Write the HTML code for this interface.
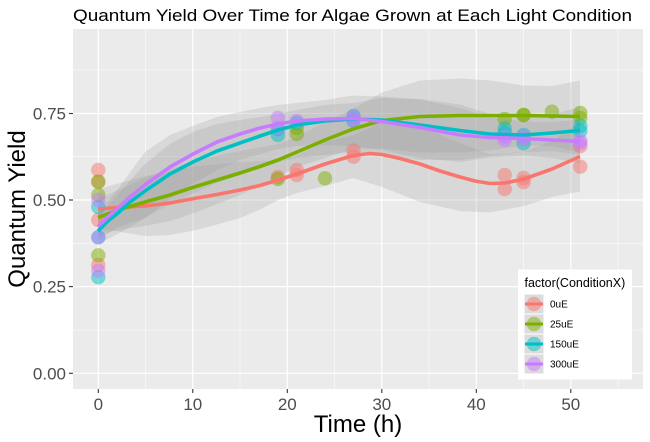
<!DOCTYPE html>
<html>
<head>
<meta charset="utf-8">
<style>
  html, body { margin: 0; padding: 0; background: #ffffff; }
  svg { display: block; }
  text { font-family: "Liberation Sans", Arial, sans-serif; }
</style>
</head>
<body>
<svg width="650" height="442" viewBox="0 0 650 442" xmlns="http://www.w3.org/2000/svg">
  <rect x="0" y="0" width="650" height="442" fill="#ffffff"/>

  <!-- Title -->
  <text x="73" y="21" font-size="16.5" fill="#000" textLength="559" lengthAdjust="spacingAndGlyphs">Quantum Yield Over Time for Algae Grown at Each Light Condition</text>

  <!-- Panel -->
  <rect x="73" y="29" width="570" height="360" fill="#EBEBEB"/>

  <!-- minor grid -->
  <g stroke="#ffffff" stroke-width="0.6" opacity="0.9">
    <line x1="73" x2="643" y1="70" y2="70"/>
    <line x1="73" x2="643" y1="156.6" y2="156.6"/>
    <line x1="73" x2="643" y1="243.3" y2="243.3"/>
    <line x1="73" x2="643" y1="330" y2="330"/>
    <line x1="145.5" x2="145.5" y1="29" y2="389"/>
    <line x1="240" x2="240" y1="29" y2="389"/>
    <line x1="334.5" x2="334.5" y1="29" y2="389"/>
    <line x1="429" x2="429" y1="29" y2="389"/>
    <line x1="523.5" x2="523.5" y1="29" y2="389"/>
    <line x1="618" x2="618" y1="29" y2="389"/>
  </g>
  <!-- major grid -->
  <g stroke="#ffffff" stroke-width="1.2">
    <line x1="73" x2="643" y1="113.5" y2="113.5"/>
    <line x1="73" x2="643" y1="200" y2="200"/>
    <line x1="73" x2="643" y1="286.6" y2="286.6"/>
    <line x1="73" x2="643" y1="373.3" y2="373.3"/>
    <line x1="98.3" x2="98.3" y1="29" y2="389"/>
    <line x1="192.8" x2="192.8" y1="29" y2="389"/>
    <line x1="287.3" x2="287.3" y1="29" y2="389"/>
    <line x1="381.8" x2="381.8" y1="29" y2="389"/>
    <line x1="476.3" x2="476.3" y1="29" y2="389"/>
    <line x1="570.8" x2="570.8" y1="29" y2="389"/>
  </g>

  <!-- Ribbons -->
  <g fill="#999999" fill-opacity="0.24" stroke="none">
    <!-- red -->
    <polygon points="98,189 118,183.5 145,176 170,171 194,166.5 217,164.5 240,162 260,161.5 278,160 297,155 325,142 353,135.5 382,122.5 420,126 460,143 490,154.5 524,152 552,141 580,121.5 580,191.5 552,197 524,206 490,212.5 460,211 420,202 382,187 353,178 325,186 297,193 278,200 260,209.5 240,218 217,224.5 194,230.5 170,235 145,236 118,231.5 98,229"/>
    <!-- green -->
    <polygon points="98,199.5 118,190 145,178 170,169 194,161 217,156 240,151 260,147.5 278,144 297,137 325,122 353,109 382,92.5 420,80.5 460,78.5 490,80.5 524,85.5 552,86 580,80.5 580,152.5 552,146 524,145.5 490,150.5 460,152.5 420,152.5 382,148.5 353,149 325,158 297,167 278,176 260,185.5 240,195 217,204 194,213 170,221 145,226 118,230 98,235.5"/>
    <!-- cyan -->
    <polygon points="98,218 118,194 145,164 170,144 194,131.5 217,124 240,120 260,117 278,114 297,110 325,105 353,103 382,98 420,99 460,104.5 490,114 524,118 552,115 580,106.5 580,154.5 552,151 524,152 490,156 460,160 420,160 382,155 353,152 325,155 297,158 278,162 260,168 240,175 217,183 194,193 170,204 145,218 118,234 98,244"/>
    <!-- purple -->
    <polygon points="98,213.5 118,189 145,152 170,135 194,125.5 217,117 240,112 260,108 278,105 297,103 325,100 353,95.5 382,96.5 420,99.5 460,108 490,117.5 524,121.5 552,122 580,119.5 580,163.5 552,158 524,155.5 490,157.5 460,162 420,158 382,150 353,146 325,145 297,146 278,149 260,154 240,160 217,170 194,183 170,199 145,218 118,227 98,239.5"/>
  </g>

  <!-- Points -->
  <g fill-opacity="0.5" stroke="none">
    <!-- red -->
    <g fill="#F8766D">
      <circle cx="98.3" cy="170" r="7.2"/>
      <circle cx="98.3" cy="181.7" r="7.2"/>
      <circle cx="98.3" cy="220" r="7.2"/>
      <circle cx="98.3" cy="265" r="7.2"/>
      <circle cx="277.9" cy="177" r="7.2"/>
      <circle cx="296.8" cy="170" r="7.2"/>
      <circle cx="296.8" cy="175" r="7.2"/>
      <circle cx="353.5" cy="150.5" r="7.2"/>
      <circle cx="353.5" cy="156.7" r="7.2"/>
      <circle cx="504.7" cy="175" r="7.2"/>
      <circle cx="504.7" cy="189" r="7.2"/>
      <circle cx="523.6" cy="178" r="7.2"/>
      <circle cx="523.6" cy="182" r="7.2"/>
      <circle cx="580.3" cy="146" r="7.2"/>
      <circle cx="580.3" cy="166.7" r="7.2"/>
    </g>
    <!-- green -->
    <g fill="#7CAE00">
      <circle cx="98.3" cy="181.7" r="7.2"/>
      <circle cx="98.3" cy="195" r="7.2"/>
      <circle cx="98.3" cy="255.3" r="7.2"/>
      <circle cx="277.9" cy="179" r="7.2"/>
      <circle cx="296.8" cy="128" r="7.2"/>
      <circle cx="296.8" cy="134" r="7.2"/>
      <circle cx="325" cy="178.3" r="7.2"/>
      <circle cx="504.7" cy="119" r="7.2"/>
      <circle cx="523.6" cy="115" r="7.2"/>
      <circle cx="523.6" cy="115" r="7.2"/>
      <circle cx="551.9" cy="111.7" r="7.2"/>
      <circle cx="580.3" cy="113" r="7.2"/>
      <circle cx="580.3" cy="118" r="7.2"/>
    </g>
    <!-- cyan -->
    <g fill="#00BFC4">
      <circle cx="98.3" cy="207" r="7.2"/>
      <circle cx="98.3" cy="237.3" r="7.2"/>
      <circle cx="98.3" cy="277.3" r="7.2"/>
      <circle cx="277.9" cy="129" r="7.2"/>
      <circle cx="277.9" cy="135" r="7.2"/>
      <circle cx="296.8" cy="123" r="7.2"/>
      <circle cx="353.5" cy="116" r="7.2"/>
      <circle cx="353.5" cy="121" r="7.2"/>
      <circle cx="504.7" cy="128.5" r="7.2"/>
      <circle cx="504.7" cy="133" r="7.2"/>
      <circle cx="523.6" cy="135" r="7.2"/>
      <circle cx="523.6" cy="143.3" r="7.2"/>
      <circle cx="580.3" cy="126" r="7.2"/>
      <circle cx="580.3" cy="131" r="7.2"/>
    </g>
    <!-- purple -->
    <g fill="#C77CFF">
      <circle cx="98.3" cy="200" r="7.2"/>
      <circle cx="98.3" cy="237.3" r="7.2"/>
      <circle cx="98.3" cy="270.7" r="7.2"/>
      <circle cx="277.9" cy="118" r="7.2"/>
      <circle cx="277.9" cy="128" r="7.2"/>
      <circle cx="296.8" cy="121" r="7.2"/>
      <circle cx="353.5" cy="117" r="7.2"/>
      <circle cx="353.5" cy="120" r="7.2"/>
      <circle cx="504.7" cy="136.7" r="7.2"/>
      <circle cx="504.7" cy="140" r="7.2"/>
      <circle cx="523.6" cy="137" r="7.2"/>
      <circle cx="523.6" cy="139" r="7.2"/>
      <circle cx="580.3" cy="141" r="7.2"/>
      <circle cx="580.3" cy="143" r="7.2"/>
    </g>
  </g>

  <!-- Smooth lines -->
  <g fill="none" stroke-width="3.6" stroke-linejoin="round" stroke-linecap="butt">
    <polyline stroke="#F8766D" points="98,209 118,207.5 145,206 170,203 194,198.5 217,194.5 240,190 260,185.5 278,180 297,174 325,164 353,155.5 370,153.5 382,154.5 400,158.5 420,164 440,171 460,177 475,181 490,183.5 505,183 524,179 552,169 580,156.5"/>
    <polyline stroke="#7CAE00" points="98,217.5 118,210 145,202 170,195 194,187 217,180 240,173 260,166.5 278,160 297,152 325,140 353,129 382,120.5 420,116.5 460,115.5 524,115.5 580,116.5"/>
    <polyline stroke="#00BFC4" points="98,231 108,221 118,213 130,202 145,191 170,174 194,161.5 217,151 240,143 260,136 278,130 297,125 325,121 353,119 382,120 420,125 460,130.5 490,134 524,135 552,133 580,130.5"/>
    <polyline stroke="#C77CFF" points="98,226.5 108,217 118,208 130,197 145,185 170,167 194,153.5 217,142 240,134 260,128 278,124 297,121 325,119 353,118.5 382,121.5 420,127.5 460,135 490,137.5 524,138.5 552,140 580,141.5"/>
  </g>

  <!-- Axis ticks -->
  <g stroke="#333333" stroke-width="1.1">
    <line x1="69" x2="73" y1="113.5" y2="113.5"/>
    <line x1="69" x2="73" y1="200" y2="200"/>
    <line x1="69" x2="73" y1="286.6" y2="286.6"/>
    <line x1="69" x2="73" y1="373.3" y2="373.3"/>
    <line x1="98.3" x2="98.3" y1="389" y2="393"/>
    <line x1="192.8" x2="192.8" y1="389" y2="393"/>
    <line x1="287.3" x2="287.3" y1="389" y2="393"/>
    <line x1="381.8" x2="381.8" y1="389" y2="393"/>
    <line x1="476.3" x2="476.3" y1="389" y2="393"/>
    <line x1="570.8" x2="570.8" y1="389" y2="393"/>
  </g>

  <!-- Y tick labels -->
  <g font-size="17" fill="#4D4D4D" text-anchor="end">
    <text x="66" y="119.5">0.75</text>
    <text x="66" y="206">0.50</text>
    <text x="66" y="292.6">0.25</text>
    <text x="66" y="379.3">0.00</text>
  </g>
  <!-- X tick labels -->
  <g font-size="17" fill="#4D4D4D" text-anchor="middle">
    <text x="98.3" y="410">0</text>
    <text x="192.8" y="410">10</text>
    <text x="287.3" y="410">20</text>
    <text x="381.8" y="410">30</text>
    <text x="476.3" y="410">40</text>
    <text x="570.8" y="410">50</text>
  </g>

  <!-- Axis titles -->
  <text x="358" y="432" font-size="24" fill="#000" text-anchor="middle">Time (h)</text>
  <text transform="translate(25,209) rotate(-90)" x="0" y="0" font-size="24" fill="#000" text-anchor="middle">Quantum Yield</text>

  <!-- Legend -->
  <rect x="518" y="269.5" width="114" height="110" fill="#ffffff"/>
  <text x="524.5" y="287" font-size="12.5" fill="#000">factor(ConditionX)</text>
  <g>
    <rect x="524.5" y="294.5" width="19" height="19" fill="#DCDCDC"/>
    <rect x="524.5" y="314.5" width="19" height="19" fill="#DCDCDC"/>
    <rect x="524.5" y="334.5" width="19" height="19" fill="#DCDCDC"/>
    <rect x="524.5" y="354.5" width="19" height="19" fill="#DCDCDC"/>
    <circle cx="534" cy="304" r="7.2" fill="#F8766D" fill-opacity="0.5"/>
    <circle cx="534" cy="324" r="7.2" fill="#7CAE00" fill-opacity="0.5"/>
    <circle cx="534" cy="344" r="7.2" fill="#00BFC4" fill-opacity="0.5"/>
    <circle cx="534" cy="364" r="7.2" fill="#C77CFF" fill-opacity="0.5"/>
    <line x1="525" x2="543" y1="304" y2="304" stroke="#F8766D" stroke-width="3"/>
    <line x1="525" x2="543" y1="324" y2="324" stroke="#7CAE00" stroke-width="3"/>
    <line x1="525" x2="543" y1="344" y2="344" stroke="#00BFC4" stroke-width="3"/>
    <line x1="525" x2="543" y1="364" y2="364" stroke="#C77CFF" stroke-width="3"/>
  </g>
  <g font-size="10" fill="#000">
    <text x="550" y="307.5">0uE</text>
    <text x="550" y="327.5">25uE</text>
    <text x="550" y="347.5">150uE</text>
    <text x="550" y="367.5">300uE</text>
  </g>
</svg>
</body>
</html>
